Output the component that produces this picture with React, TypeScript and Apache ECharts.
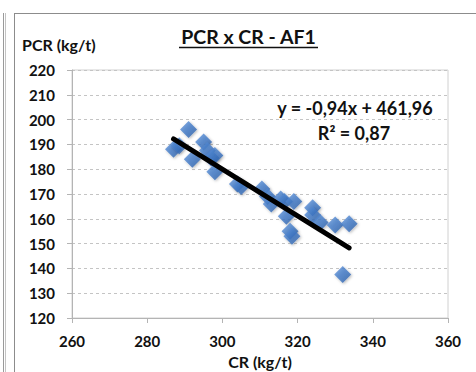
import React, { useEffect, useRef } from "react";
import * as echarts from "echarts";

// CR (kg/t) values
const crValues = [287, 288.5, 291, 292, 295, 296, 297, 298, 298, 304, 305, 310.5, 312, 313, 315.5, 316.5, 317, 318, 318.5, 319, 324, 324, 326, 330, 333.7, 332];
// PCR (kg/t) values
const pcrValues = [188, 189.5, 196, 184, 191, 187.5, 184.5, 179, 185.5, 174, 173, 172, 169, 166, 168, 167, 161, 155, 153, 167, 164.5, 161.5, 158.5, 157.5, 158, 137.5];
// Linear trend coefficients
const slope = -0.94;
const intercept = 461.96;
const rSquared = 0.87;

const xTicks = { min: 260, max: 360, interval: 20 };
const yTicks = { min: 120, max: 220, interval: 10 };

const fmt = (v: number) => Math.abs(v).toFixed(2).replace(".", ",");

export default function App() {
  const ref = useRef<HTMLDivElement>(null);

  useEffect(() => {
    if (!ref.current) return;
    const chart = echarts.init(ref.current, undefined, { renderer: "svg" });
    const points = crValues.map((x, i) => [x, pcrValues[i]]);
    const xMin = Math.min(...crValues);
    const xMax = Math.max(...crValues);
    const trend = [
      [xMin, slope * xMin + intercept],
      [xMax, slope * xMax + intercept],
    ];
    const eqText = `y = ${slope < 0 ? "-" : ""}${fmt(slope)}x + ${fmt(intercept)}`;
    const r2Text = `R² = ${fmt(rSquared)}`;
    const font = "Lato, 'Open Sans', sans-serif";

    chart.setOption({
      animation: false,
      backgroundColor: "#ffffff",
      grid: {
        left: 72,
        top: 70,
        right: 28,
        bottom: 54,
        show: true,
        borderColor: "#d0d0d0",
        borderWidth: 1,
      },
      xAxis: {
        type: "value",
        min: xTicks.min,
        max: xTicks.max,
        interval: xTicks.interval,
        axisLine: { show: true, lineStyle: { color: "#b4b4b4" } },
        axisTick: { show: true, length: 5, lineStyle: { color: "#b4b4b4" } },
        splitLine: { show: false },
        axisLabel: {
          margin: 15,
          color: "#111",
          fontFamily: font,
          fontWeight: "bold",
          fontSize: 15,
        },
      },
      yAxis: {
        type: "value",
        min: yTicks.min,
        max: yTicks.max,
        interval: yTicks.interval,
        axisLine: { show: true, lineStyle: { color: "#b4b4b4" } },
        axisTick: { show: true, length: 5, lineStyle: { color: "#b4b4b4" } },
        splitLine: {
          show: true,
          lineStyle: { color: "#c4c4c4", type: [3, 3], width: 1 },
        },
        axisLabel: {
          margin: 17,
          color: "#111",
          fontFamily: font,
          fontWeight: "bold",
          fontSize: 15,
        },
      },
      series: [
        {
          type: "scatter",
          data: points,
          symbol: "diamond",
          symbolSize: 17,
          z: 2,
          itemStyle: {
            color: new echarts.graphic.LinearGradient(0, 0, 1, 1, [
              { offset: 0, color: "#6498dc" },
              { offset: 0.5, color: "#3f78c6" },
              { offset: 1, color: "#2a5ca3" },
            ]),
            shadowBlur: 3,
            shadowColor: "rgba(0,0,0,0.35)",
            shadowOffsetX: 1,
            shadowOffsetY: 1,
          },
        },
        {
          type: "line",
          data: trend,
          symbol: "none",
          z: 3,
          lineStyle: { color: "#000", width: 5, cap: "round" },
        },
      ],
      graphic: [
        { type: "line", shape: { x1: 14.5, y1: 13, x2: 14.5, y2: 372 }, style: { stroke: "#8c8c8c", lineWidth: 1 } },
        { type: "line", shape: { x1: 14, y1: 13.5, x2: 476, y2: 13.5 }, style: { stroke: "#8c8c8c", lineWidth: 1 } },
        { type: "line", shape: { x1: 3.5, y1: 13, x2: 3.5, y2: 372 }, style: { stroke: "#9a9a9a", lineWidth: 1 } },
        { type: "line", shape: { x1: 5.5, y1: 13, x2: 5.5, y2: 372 }, style: { stroke: "#c4c4c4", lineWidth: 1 } },
        {
          type: "text",
          x: 248.5,
          y: 36,
          style: {
            text: "PCR x CR - AF1",
            fontFamily: font,
            fontWeight: "bold",
            fontSize: 19.5,
            fill: "#111",
            textAlign: "center",
            textVerticalAlign: "middle",
          },
        },
        { type: "line", shape: { x1: 179, y1: 47.5, x2: 318, y2: 47.5 }, style: { stroke: "#111", lineWidth: 1.5 } },
        {
          type: "text",
          x: 22,
          y: 44,
          style: {
            text: "PCR (kg/t)",
            fontFamily: font,
            fontWeight: "bold",
            fontSize: 16,
            fill: "#111",
            textAlign: "left",
            textVerticalAlign: "middle",
          },
        },
        {
          type: "text",
          x: 260,
          y: 361,
          style: {
            text: "CR (kg/t)",
            fontFamily: font,
            fontWeight: "bold",
            fontSize: 16,
            fill: "#111",
            textAlign: "center",
            textVerticalAlign: "middle",
          },
        },
        {
          type: "text",
          x: 355,
          y: 108,
          z: 10,
          style: {
            text: eqText,
            fontFamily: font,
            fontWeight: "bold",
            fontSize: 18,
            fill: "#111",
            textAlign: "center",
            textVerticalAlign: "middle",
          },
        },
        {
          type: "text",
          x: 354,
          y: 133,
          z: 10,
          style: {
            text: r2Text,
            fontFamily: font,
            fontWeight: "bold",
            fontSize: 18,
            fill: "#111",
            textAlign: "center",
            textVerticalAlign: "middle",
          },
        },
      ],
    });
    return () => chart.dispose();
  }, []);

  return (
    <div
      ref={ref}
      style={{ position: "fixed", left: 0, top: 0, width: 476, height: 372 }}
    />
  );
}
